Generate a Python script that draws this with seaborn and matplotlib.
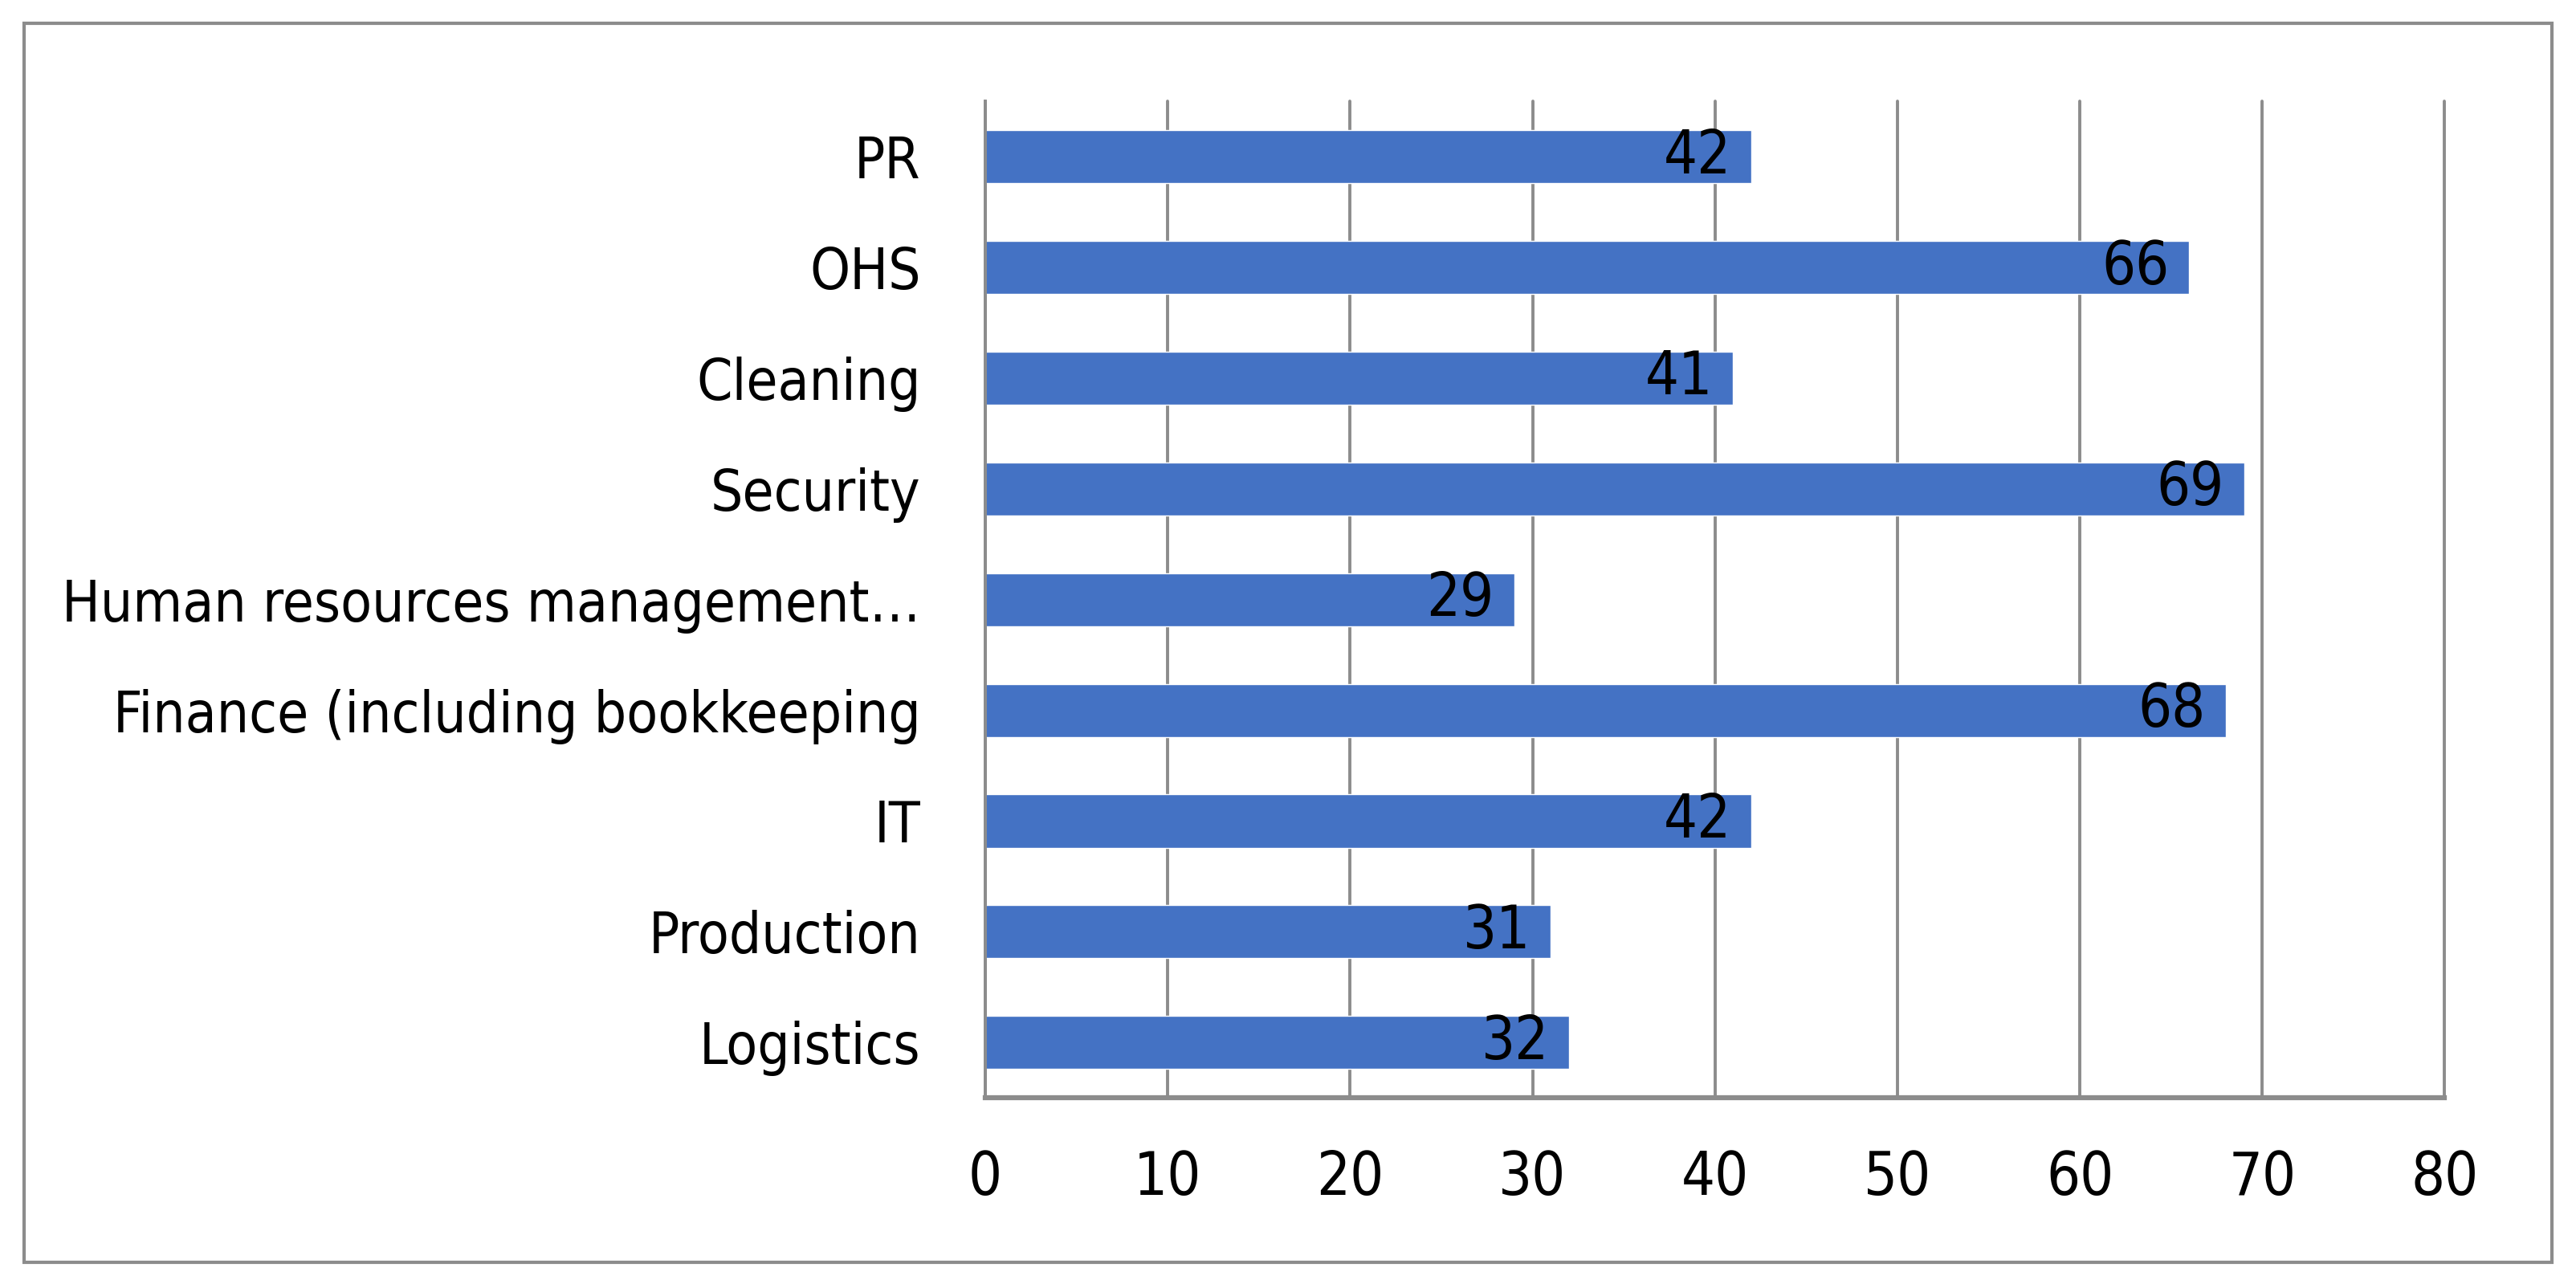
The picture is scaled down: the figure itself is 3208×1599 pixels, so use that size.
import matplotlib
matplotlib.use("Agg")
import matplotlib.pyplot as plt
import seaborn as sns
import pandas as pd
from matplotlib.patches import Rectangle
from matplotlib.transforms import offset_copy

# Data (top to bottom)
categories = ["PR", "OHS", "Cleaning", "Security", "Human resources management…",
              "Finance (including bookkeeping", "IT", "Production", "Logistics"]
values = [42, 66, 41, 69, 29, 68, 42, 31, 32]
x_ticks = [0, 10, 20, 30, 40, 50, 60, 70, 80]

bar_color = "#4472C4"
grid_color = "#8C8C8C"

sns.set_theme(style="white")
plt.rcParams["font.family"] = ["DejaVu Sans"]
plt.rcParams["font.stretch"] = "condensed"

df = pd.DataFrame({"category": categories, "value": values})

fig = plt.figure(figsize=(32.08, 15.99), dpi=100)
ax = fig.add_axes([0.3825, 0.145, 0.5665, 0.776])

sns.barplot(data=df, y="category", x="value", orient="h", color=bar_color,
            saturation=1, width=0.48, ax=ax)

ax.set_xlim(0, 80)
ax.set_xticks(x_ticks)
ax.set_xlabel("")
ax.set_ylabel("")
ax.xaxis.grid(True, color=grid_color, linewidth=2.8)
for gl in ax.get_xgridlines():
    gl.set_clip_on(False)
ax.yaxis.grid(False)
ax.set_axisbelow(True)

for side in ["top", "right"]:
    ax.spines[side].set_visible(False)
ax.spines["left"].set_color(grid_color)
ax.spines["left"].set_linewidth(2.8)
ax.spines["bottom"].set_color(grid_color)
ax.spines["bottom"].set_linewidth(4.5)

ax.tick_params(axis="y", length=0, pad=58, labelsize=51, labelcolor="black")
ax.tick_params(axis="x", length=0, pad=46, labelsize=53, labelcolor="black")

# value labels just inside the bar ends
trans = offset_copy(ax.transData, fig=fig, x=-18, y=0, units="points")
for i, v in enumerate(values):
    ax.text(v, i, str(v), ha="right", va="center", fontsize=53,
            color="black", transform=trans)

# outer chart frame
fig.patches.append(Rectangle((0.0095, 0.017), 0.981, 0.965, transform=fig.transFigure,
                             fill=False, edgecolor=grid_color, linewidth=3))

fig.savefig("out.png", dpi=100, facecolor="white")
plt.close(fig)
